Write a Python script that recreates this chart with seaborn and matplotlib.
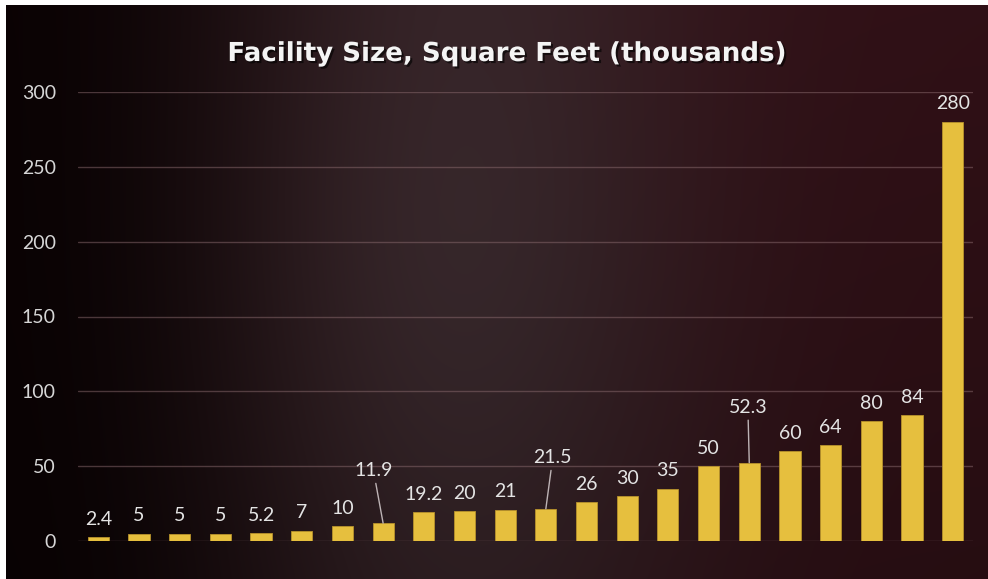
import numpy as np
import pandas as pd
import matplotlib
matplotlib.use("Agg")
import matplotlib.pyplot as plt
import matplotlib.patheffects as pe
import seaborn as sns
from matplotlib.colors import to_rgb
from matplotlib.patches import Rectangle

# ---------------- data ----------------
values = [2.4, 5, 5, 5, 5.2, 7, 10, 11.9, 19.2, 20, 21, 21.5, 26, 30, 35,
          50, 52.3, 60, 64, 80, 84, 280]
value_labels = ["2.4", "5", "5", "5", "5.2", "7", "10", "11.9", "19.2", "20",
                "21", "21.5", "26", "30", "35", "50", "52.3", "60", "64",
                "80", "84", "280"]
facilities = [f"Facility {i + 1}" for i in range(len(values))]
yticks = [0, 50, 100, 150, 200, 250, 300]
title = "Facility Size, Square Feet (thousands)"

# labels that sit further up with a leader line: index -> (dx, dy) in points
leader_offsets = {7: (-7, 32), 11: (5, 31), 16: (-1, 34)}

# ---------------- style ----------------
sns.set_theme(style="dark")
plt.rcParams["font.family"] = ["Lato", "DejaVu Sans"]

W, H = 988, 579
fig = plt.figure(figsize=(W / 100, H / 100), dpi=100)
fig.patch.set_facecolor("#1a0a0c")

# background gradient
bg = fig.add_axes([0, 0, 1, 1], zorder=0)
xs = np.linspace(0, 1, W)
ys = np.linspace(0, 1, H)
X, Y = np.meshgrid(xs, ys)
left_c = np.array(to_rgb("#0a0203"))
right_c = np.array(to_rgb("#301016"))
mid_c = np.array(to_rgb("#3b2a2e"))
t = np.clip((X - 0.05) * 1.5, 0, 1)
t = t * t * (3 - 2 * t)
base = left_c[None, None, :] * (1 - t[..., None]) + right_c[None, None, :] * t[..., None]
glow = np.exp(-((X - 0.47) / 0.24) ** 2) * (0.7 + 0.3 * np.exp(-((Y - 0.5) / 0.5) ** 2))
img = base * (1 - glow[..., None]) + mid_c[None, None, :] * glow[..., None]
shade = 1 - 0.2 * Y
img = img * shade[..., None]
bg.imshow(np.clip(img, 0, 1), aspect="auto", extent=[0, 1, 0, 1], origin="upper")
bg.set_axis_off()

# white page borders
fig.patches.append(Rectangle((0, 0), 6 / W, 1, transform=fig.transFigure,
                             facecolor="white", edgecolor="none", zorder=5))
fig.patches.append(Rectangle((0, 1 - 5 / H), 1, 5 / H, transform=fig.transFigure,
                             facecolor="white", edgecolor="none", zorder=5))

# main axes
ax = fig.add_axes([78 / W, 1 - 541 / H, (973 - 78) / W, (541 - 92) / H], zorder=1)
ax.patch.set_alpha(0)

df = pd.DataFrame({"facility": facilities, "size": values})
sns.barplot(data=df, x="facility", y="size", color="#E6BF3E", saturation=1,
            width=0.52, edgecolor="#b8932c", linewidth=0.6, ax=ax, zorder=3)

ax.set_ylim(0, 300)
ax.set_yticks(yticks)
ax.set_yticklabels([str(v) for v in yticks])
ax.set_xticks([])
ax.set_xlabel("")
ax.set_ylabel("")
ax.grid(axis="y", color="#8a6a6e", linewidth=1.0, alpha=0.5)
ax.grid(axis="x", visible=False)
ax.set_axisbelow(True)
for s in ax.spines.values():
    s.set_visible(False)
ax.tick_params(axis="y", colors="#d6d6d6", labelsize=14, pad=16, length=0)

# value labels
for i, (v, lab) in enumerate(zip(values, value_labels)):
    if i in leader_offsets:
        dx, dy = leader_offsets[i]
        ax.annotate(lab, xy=(i, v), xytext=(dx, dy), textcoords="offset points",
                    ha="center", va="bottom", fontsize=14, color="#e4e4e4",
                    annotation_clip=False,
                    arrowprops=dict(arrowstyle="-", color="#bdb3b5", lw=1.0,
                                    shrinkA=1, shrinkB=0))
    else:
        ax.annotate(lab, xy=(i, v), xytext=(0, 9), textcoords="offset points",
                    ha="center", va="baseline", fontsize=14, color="#e4e4e4",
                    annotation_clip=False)

fig.text(0.514, 1 - 54 / H, title, ha="center", va="center", fontsize=18.8,
         fontweight="bold", color="#f4f4f4", zorder=6, family=["DejaVu Sans"],
         path_effects=[pe.withSimplePatchShadow(offset=(1.5, -1.5), shadow_rgbFace="black", alpha=0.6)])

fig.savefig("out.png", dpi=100, facecolor=fig.get_facecolor())
